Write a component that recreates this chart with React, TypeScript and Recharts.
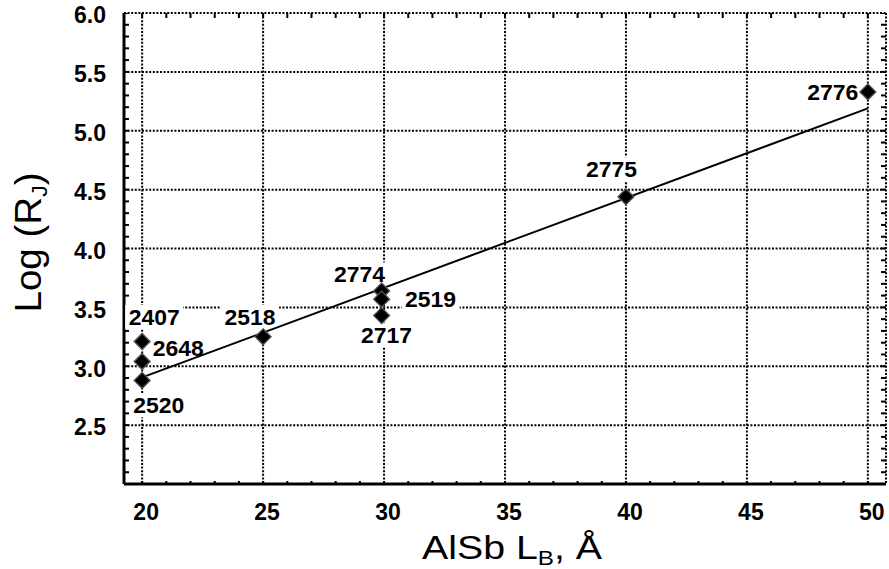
import { ScatterChart, Scatter, XAxis, YAxis, CartesianGrid } from "recharts";

const FONT = '"Liberation Sans", Arial, Helvetica, sans-serif';

// samples: AlSb barrier width (Å) vs log of junction resistance
const sampleIds = ["2407", "2648", "2520", "2518", "2774", "2519", "2717", "2775", "2776"];
const barrierWidth = [20, 20, 20, 25, 29.9, 29.9, 29.9, 40, 50];
const logRj = [3.21, 3.04, 2.88, 3.25, 3.64, 3.57, 3.43, 4.44, 5.33];

// fitted straight line, end points
const fitX = [20, 50];
const fitY = [2.905, 5.19];

const xTicks = [20, 25, 30, 35, 40, 45, 50];
const yTicks = [2.5, 3.0, 3.5, 4.0, 4.5, 5.0, 5.5, 6.0];
const xDomain = [19.25, 50.75];
const yDomain = [2, 6];

// minor tick marks: every 1 Å and every 0.1 in log
const xMinor = Array.from({ length: 31 }, (_, i) => 20 + i);
const yMinor = Array.from({ length: 41 }, (_, i) => Math.round((2 + i * 0.1) * 10) / 10);

// where each sample label sits relative to its marker (px)
const labelOffsets: Record<string, [number, number]> = {
  "2407": [12, -24.5],
  "2648": [36, -13.5],
  "2520": [16.5, 25],
  "2518": [-13, -20],
  "2774": [-22, -16.5],
  "2519": [49, 0],
  "2717": [5, 19.5],
  "2775": [-14.5, -27.5],
  "2776": [-35, 0],
};

const points = sampleIds.map((id, i) => ({ id, x: barrierWidth[i], y: logRj[i] }));
const fitPts = fitX.map((x, i) => ({ x, y: fitY[i] }));

// minor tick marks placed on the frame through the chart scales
const topMarks = xMinor.map((x) => ({ x, y: yDomain[1] }));
const bottomMarks = xMinor.map((x) => ({ x, y: yDomain[0] }));
const leftMarks = yMinor.map((y) => ({ x: xDomain[0], y }));
const rightMarks = yMinor.map((y) => ({ x: xDomain[1], y }));

function Diamond(props: any) {
  const { cx, cy } = props;
  const r = 8;
  return (
    <path
      d={`M${cx},${cy - r}L${cx + r},${cy}L${cx},${cy + r}L${cx - r},${cy}Z`}
      fill="#000"
      stroke="#555"
      strokeWidth={1.3}
    />
  );
}

function PointLabel(props: any) {
  const { cx, cy, payload } = props;
  const [dx, dy] = labelOffsets[payload.id];
  const w = 58;
  const h = 24;
  const x = cx + dx;
  const y = cy + dy;
  return (
    <g>
      <rect x={x - w / 2} y={y - h / 2} width={w} height={h} fill="#fff" />
      <text
        x={x}
        y={y}
        dy="0.36em"
        textAnchor="middle"
        fontFamily={FONT}
        fontSize={22}
        fontWeight="bold"
        fill="#000"
        textLength={51}
        lengthAdjust="spacingAndGlyphs"
      >
        {payload.id}
      </text>
    </g>
  );
}

const tickMark = (dx: number, dy: number) => (props: any) => {
  const { cx, cy } = props;
  return <line x1={cx} y1={cy} x2={cx + dx} y2={cy + dy} stroke="#000" strokeWidth={2} />;
};

function XTick(props: any) {
  const { x, y, payload } = props;
  return (
    <text x={x + 4} y={y} dy="0.72em" textAnchor="middle" fontFamily={FONT} fontSize={23} fontWeight="bold" fill="#000">
      {payload.value}
    </text>
  );
}

function YTick(props: any) {
  const { x, y, payload } = props;
  return (
    <text x={x} y={y + 2} dy="0.36em" textAnchor="end" fontFamily={FONT} fontSize={23} fontWeight="bold" fill="#000">
      {Number(payload.value).toFixed(1)}
    </text>
  );
}

function XTitle(props: any) {
  const { x, y, width } = props.viewBox;
  return (
    <text
      x={x + width / 2 + 7}
      y={y + 75}
      textAnchor="middle"
      fontFamily={FONT}
      fontSize={34}
      fill="#000"
      textLength={180}
      lengthAdjust="spacingAndGlyphs"
    >
      AlSb L
      <tspan fontSize={21} dy={6}>B</tspan>
      <tspan dy={-6}>, Å</tspan>
    </text>
  );
}

function YTitle(props: any) {
  const { x, y, height } = props.viewBox;
  const cx = x + 41;
  const cy = y + height / 2 - 6;
  return (
    <text
      transform={`translate(${cx},${cy}) rotate(-90)`}
      textAnchor="middle"
      fontFamily={FONT}
      fontSize={37}
      fill="#000"
      textLength={140}
      lengthAdjust="spacingAndGlyphs"
    >
      Log (R
      <tspan fontSize={22} dy={6}>J</tspan>
      <tspan dy={-6}>)</tspan>
    </text>
  );
}

const noShape = () => <g />;
const blackLine = { stroke: "#000", strokeWidth: 2 };

export default function App() {
  return (
    <div style={{ position: "absolute", left: 0, top: 0, background: "#fff" }}>
      <ScatterChart width={889} height={569} margin={{ top: 13, right: 3, bottom: 0, left: 0 }}>
        <CartesianGrid stroke="#000" strokeDasharray="2 1.6" strokeWidth={2} />

        <Scatter data={topMarks} dataKey="y" shape={tickMark(0, 5)} isAnimationActive={false} />
        <Scatter data={bottomMarks} dataKey="y" shape={tickMark(0, -3)} isAnimationActive={false} />
        <Scatter data={leftMarks} dataKey="y" shape={tickMark(5, 0)} isAnimationActive={false} />
        <Scatter data={rightMarks} dataKey="y" shape={tickMark(-5, 0)} isAnimationActive={false} />

        <Scatter data={points} dataKey="y" shape={PointLabel} isAnimationActive={false} />
        <Scatter data={fitPts} dataKey="y" line={blackLine} shape={noShape} isAnimationActive={false} />
        <Scatter data={points} dataKey="y" shape={Diamond} isAnimationActive={false} />

        <XAxis
          type="number"
          dataKey="x"
          domain={xDomain}
          ticks={xTicks}
          interval={0}
          height={85}
          tickLine={false}
          tickSize={6}
          tickMargin={13}
          axisLine={{ stroke: "#000", strokeWidth: 3 }}
          tick={XTick}
          label={(p: any) => <XTitle {...p} />}
          allowDataOverflow
        />
        <YAxis
          type="number"
          dataKey="y"
          domain={yDomain}
          ticks={yTicks}
          interval={0}
          width={124}
          tickLine={false}
          tickSize={6}
          tickMargin={12}
          axisLine={{ stroke: "#000", strokeWidth: 3 }}
          tick={YTick}
          label={(p: any) => <YTitle {...p} />}
          allowDataOverflow
        />

        {/* frame on top and right */}
        <XAxis
          xAxisId="top"
          orientation="top"
          type="number"
          domain={xDomain}
          mirror
          height={0}
          tick={false}
          tickLine={false}
          axisLine={{ stroke: "#000", strokeWidth: 3 }}
          allowDataOverflow
        />
        <YAxis
          yAxisId="right"
          orientation="right"
          type="number"
          domain={yDomain}
          mirror
          width={0}
          tick={false}
          tickLine={false}
          axisLine={{ stroke: "#000", strokeWidth: 2 }}
          allowDataOverflow
        />
      </ScatterChart>
    </div>
  );
}
